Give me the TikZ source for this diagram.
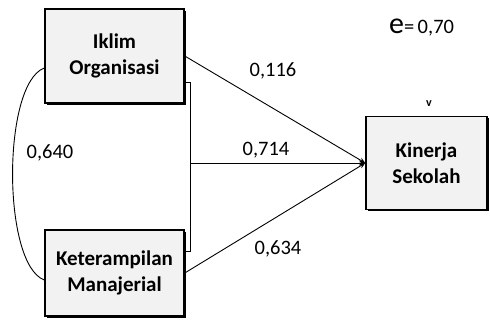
\documentclass[tikz,border=0pt]{standalone}
\usepackage{fontspec}
\setmainfont{Carlito}
\usetikzlibrary{arrows.meta,shadows}
\begin{document}
\begin{tikzpicture}[x=1pt,y=-1pt,
  box/.style={draw=black,line width=1.5pt,fill=gray!10,align=center,
    font=\fontsize{21}{26}\selectfont\bfseries,inner sep=0pt,
    general shadow={shadow xshift=1.6pt,shadow yshift=-1.6pt,fill=black}},
  lab/.style={font=\fontsize{20.5}{22}\selectfont,inner sep=0pt},
  conn/.style={line width=0.9pt},
  tip/.style={-{Stealth[length=6pt,width=5pt]}}]
\useasboundingbox (0,0) rectangle (490,324);
\node[box,minimum width=139pt,minimum height=94pt] (iklim) at (114.5,56) {Iklim\\Organisasi};
\node[box,minimum width=139pt,minimum height=86pt] (ket) at (114.5,273) {Keterampilan\\Manajerial};
\node[box,minimum width=121pt,minimum height=93pt] (kin) at (426.5,163) {Kinerja\\Sekolah};
\coordinate (bt) at (190,82);
\coordinate (bb) at (190,251);
\coordinate (bm) at (190,163);
\draw[conn] (iklim.east |- bt) -- (bt) -- (bb) -- (ket.east |- bb);
\draw[conn,tip] (bm) -- (kin.west);
\draw[conn,tip] (iklim.east) -- (kin.west);
\draw[conn,tip] (ket.east) -- (kin.west);
\draw[conn] (iklim.west |- 0,68) .. controls (2,84) and (2,264) .. (ket.west |- 0,280);
\node[lab] (l116) at (273,71) {0,116};
\node[lab] (l714) at (266,150) {0,714};
\node[lab] (l634) at (278,249) {0,634};
\node[lab] (l640) at (50,153) {0,640};
\node[lab,anchor=west] (err) at (389,28) {{\fontsize{30}{30}\selectfont e}=\,0,70};
\node[font=\fontsize{12}{12}\selectfont\bfseries,inner sep=0pt] (errtip) at (429,104) {v};
\end{tikzpicture}
\end{document}
